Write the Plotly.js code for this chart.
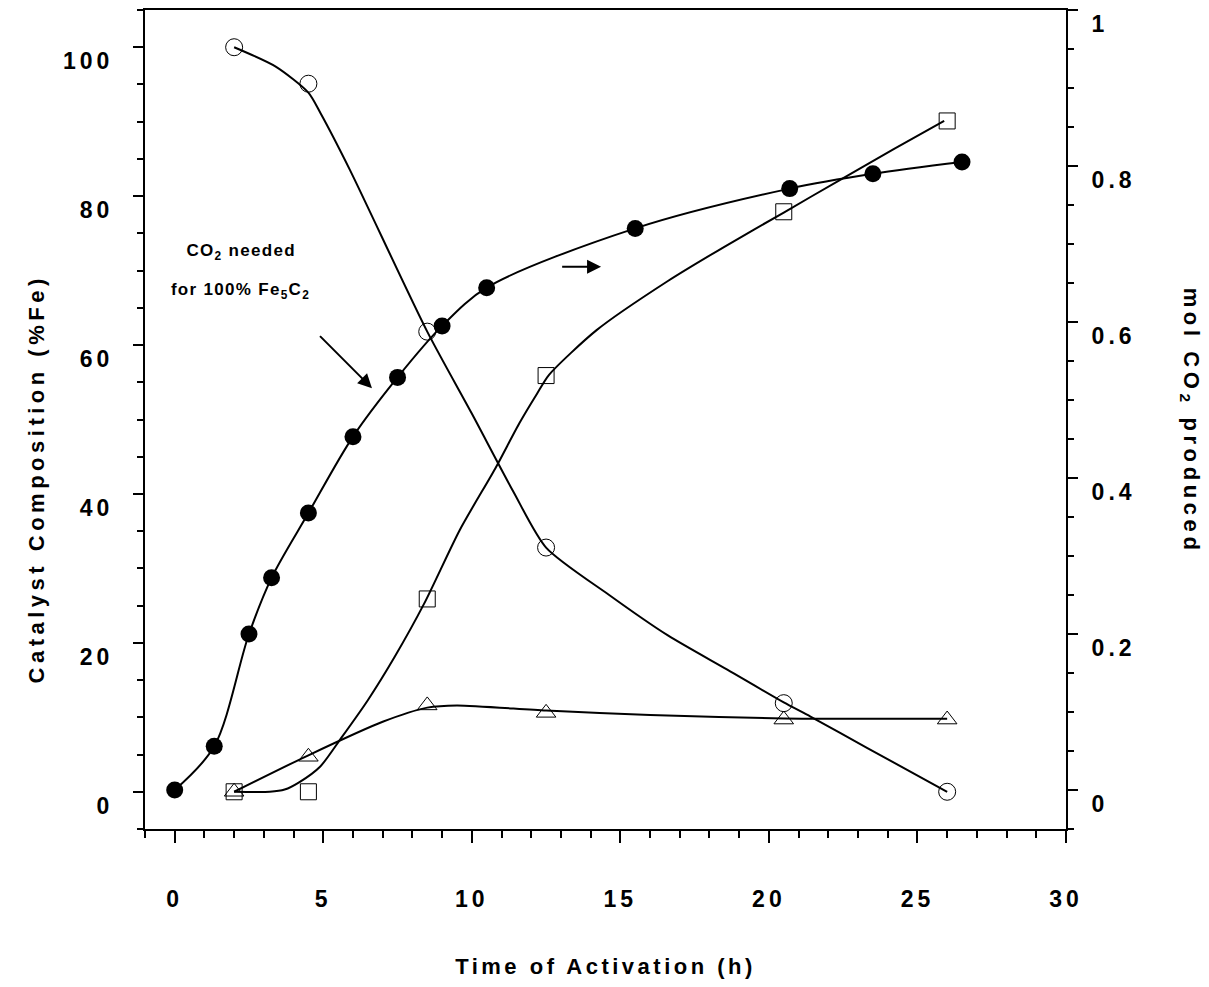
<!DOCTYPE html>
<html><head><meta charset="utf-8">
<script src="https://cdn.plot.ly/plotly-3.0.1.min.js"></script>
<style>
html,body{margin:0;padding:0;background:#fff;}
#chart{width:1209px;height:987px;}
#chart .xtick text, #chart .ytick text, #chart .y2tick text{letter-spacing:4px;}
#chart .xtitle{letter-spacing:3.5px;}
#chart g.annotation[data-index="0"] text{letter-spacing:4.5px;}
#chart g.annotation[data-index="1"] text{letter-spacing:4.6px;}
#chart g.annotation[data-index="2"] text, #chart g.annotation[data-index="3"] text{letter-spacing:1.3px;}
</style></head><body><div id="chart"></div>
<script>
// measured samples (left axis, % Fe)
const timeSamples = [2, 4.5, 8.5, 12.5, 20.5, 26];
const pctCircleOpen = [100, 95.1, 61.8, 32.8, 11.9, 0];
const pctSquare = [0, 0, 25.9, 55.9, 77.9, 90.1];
const pctTriangle = [0, 4.7, 11.6, 10.6, 9.7, 9.7];

// CO2 produced (right axis, mol)
const timeCO2 = [0, 1.33, 2.5, 3.26, 4.5, 6.0, 7.5, 9.0, 10.5, 15.5, 20.7, 23.5, 26.5];
const molCO2 = [0, 0.056, 0.2, 0.272, 0.355, 0.453, 0.529, 0.595, 0.644, 0.72, 0.771, 0.79, 0.805];

// fitted curves
const fitCircleT = [2, 3.4, 4.5, 4.9, 5.9, 8.5, 10.0, 11.4, 12.5, 14.6, 16.6, 18.6, 20.5, 21.4, 23.3, 26];
const fitCircleV = [100, 97.4, 93.9, 91.2, 83.5, 61.8, 50.8, 40.3, 32.8, 26.5, 21.0, 16.4, 12.0, 10.1, 5.9, 0];
const fitSquareT = [2, 3.2, 3.7, 4.2, 4.9, 5.6, 6.5, 7.4, 8.4, 9.6, 10.8, 11.6, 12.2, 12.6, 14.2, 16.6, 18.5, 20.5, 22.4, 24.2, 25.9];
const fitSquareV = [0, 0, 0.3, 1.3, 3.4, 7.2, 12.3, 18.1, 25.3, 35.2, 43.5, 49.5, 53.5, 56.0, 62.0, 68.6, 73.2, 77.8, 82.2, 86.3, 90.1];
const fitTriT = [2, 4.5, 7.0, 8.5, 9.5, 12.5, 16, 20.5, 26];
const fitTriV = [0, 4.9, 9.4, 11.3, 11.6, 10.9, 10.3, 9.85, 9.8];

// axis ticks
const xTicks = [0, 5, 10, 15, 20, 25, 30];
const yTicks = [0, 20, 40, 60, 80, 100];
const y2Ticks = [0, 0.2, 0.4, 0.6, 0.8, 1];
const y2TickText = ['0', '0.2', '0.4', '0.6', '0.8', '1'];

const FONT = '"Liberation Sans", Arial, Helvetica, sans-serif';
const black = '#000';

const lineStyle = {color: black, width: 2, shape: 'spline', smoothing: 0.7};

const traces = [
  {x: fitCircleT, y: fitCircleV, mode: 'lines', line: lineStyle, yaxis: 'y', showlegend: false, hoverinfo: 'skip'},
  {x: fitSquareT, y: fitSquareV, mode: 'lines', line: lineStyle, yaxis: 'y', showlegend: false, hoverinfo: 'skip'},
  {x: fitTriT, y: fitTriV, mode: 'lines', line: lineStyle, yaxis: 'y', showlegend: false, hoverinfo: 'skip'},
  {x: timeCO2, y: molCO2, mode: 'lines+markers', yaxis: 'y2', name: 'mol CO2 produced',
   line: {color: black, width: 2, shape: 'spline', smoothing: 0.9}, marker: {symbol: 'circle', size: 17, color: black}},
  {x: timeSamples, y: pctCircleOpen, mode: 'markers', yaxis: 'y', name: 'circle',
   marker: {symbol: 'circle-open', size: 17, color: black, line: {width: 1, color: black}}},
  {x: timeSamples, y: pctSquare, mode: 'markers', yaxis: 'y', name: 'square',
   marker: {symbol: 'square-open', size: 16, color: black, line: {width: 1, color: black}}},
  {x: timeSamples, y: pctTriangle, mode: 'markers', yaxis: 'y', name: 'triangle',
   marker: {symbol: 'triangle-up-open', size: 17, color: black, line: {width: 1, color: black}}}
];

const tickFont = {family: FONT, size: 23, color: black, weight: 700};
const titleFont = {family: FONT, size: 22, color: black, weight: 700};

const layout = {
  width: 1209, height: 987,
  margin: {l: 145, r: 143, t: 10, b: 158, pad: 0},
  paper_bgcolor: '#fff', plot_bgcolor: '#fff',
  showlegend: false,
  font: {family: FONT, color: black, weight: 700},
  xaxis: {
    range: [-1, 30], tickvals: xTicks, ticks: 'outside', ticklen: 12, tickwidth: 2, tickcolor: black,
    minor: {dtick: 1, tick0: 0, ticks: 'outside', ticklen: 7, tickwidth: 2, tickcolor: black, showgrid: false},
    showline: true, linewidth: 2, linecolor: black, mirror: true,
    showgrid: false, zeroline: false, tickfont: tickFont, ticklabelstandoff: 36,
    title: {text: 'Time of Activation (h)', font: titleFont, standoff: 48}
  },
  yaxis: {
    range: [-5, 105], tickvals: yTicks, ticks: 'outside', ticklen: 10, tickwidth: 2, tickcolor: black,
    minor: {dtick: 5, tick0: 0, ticks: 'outside', ticklen: 6, tickwidth: 2, tickcolor: black, showgrid: false},
    showline: true, linewidth: 2, linecolor: black,
    showgrid: false, zeroline: false, tickfont: tickFont, ticklabelstandoff: 15, ticklabelshift: 14
  },
  yaxis2: {
    overlaying: 'y', side: 'right', range: [-0.05, 1.0],
    tickvals: y2Ticks, ticktext: y2TickText, ticks: 'outside', ticklen: 10, tickwidth: 2, tickcolor: black,
    minor: {dtick: 0.05, tick0: 0, ticks: 'outside', ticklen: 6, tickwidth: 2, tickcolor: black, showgrid: false},
    showline: true, linewidth: 2, linecolor: black,
    showgrid: false, zeroline: false, tickfont: tickFont, ticklabelstandoff: 9, ticklabelshift: 14
  },
  annotations: [
    {xref: 'paper', yref: 'paper', x: -0.1173, y: 0.4274, xanchor: 'center', yanchor: 'middle',
     text: 'Catalyst Composition (%Fe)', textangle: -90, showarrow: false, font: titleFont},
    {xref: 'paper', yref: 'paper', x: 1.1346, y: 0.4976, xanchor: 'center', yanchor: 'middle',
     text: 'mol CO<sub>2</sub> produced', textangle: 90, showarrow: false, font: titleFont},
    {xref: 'x', yref: 'y', x: 2.23, y: 72.5, text: 'CO<sub>2</sub> needed', showarrow: false,
     font: {family: FONT, size: 17, color: black, weight: 700}},
    {xref: 'x', yref: 'y', x: 2.2, y: 67.3, text: 'for 100% Fe<sub>5</sub>C<sub>2</sub>', showarrow: false,
     font: {family: FONT, size: 17, color: black, weight: 700}},
    {xref: 'x', yref: 'y', x: 6.64, y: 54.2, axref: 'x', ayref: 'y', ax: 4.79, ay: 61.6,
     text: ' ', showarrow: true, arrowhead: 2, arrowsize: 1.4, arrowwidth: 2, arrowcolor: black, standoff: 0, startstandoff: 0},
    {xref: 'x', yref: 'y', x: 14.35, y: 70.5, axref: 'x', ayref: 'y', ax: 12.94, ay: 70.5,
     text: ' ', showarrow: true, arrowhead: 2, arrowsize: 1.4, arrowwidth: 2, arrowcolor: black, standoff: 0, startstandoff: 0}
  ]
};

Plotly.newPlot('chart', traces, layout, {displayModeBar: false, staticPlot: true});
</script></body></html>
